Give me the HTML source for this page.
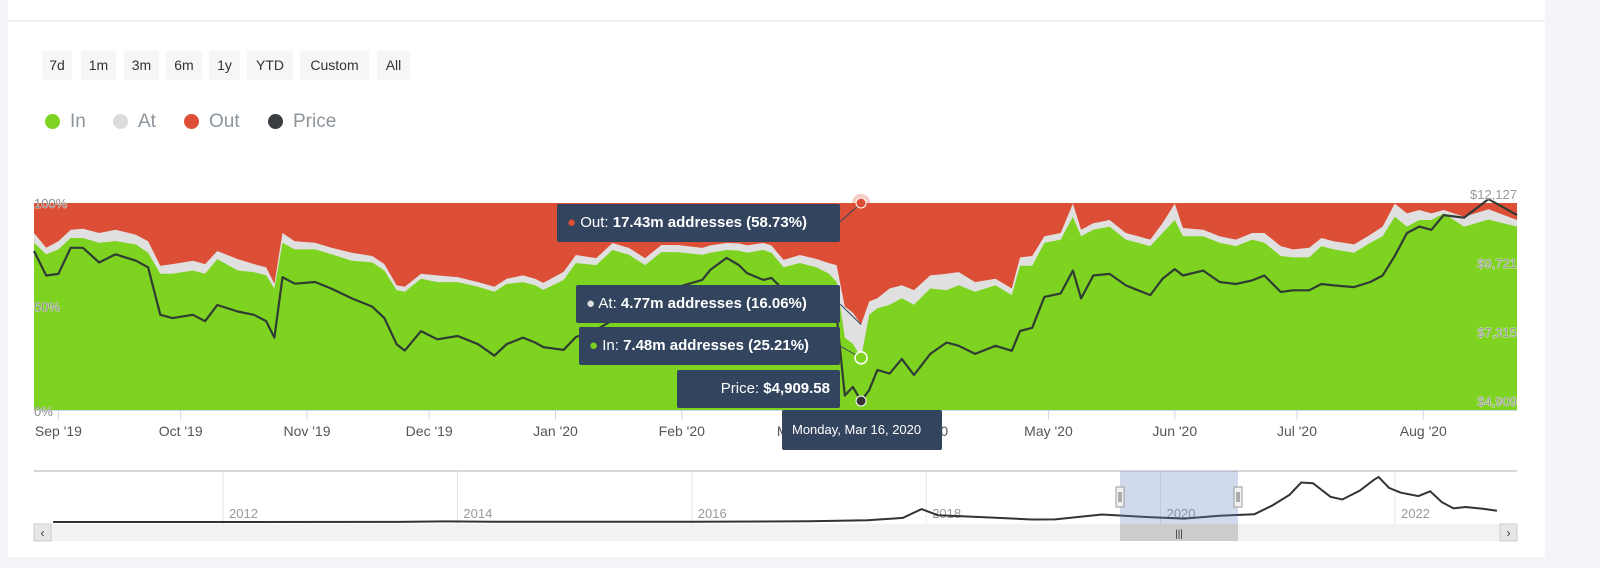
<!DOCTYPE html>
<html><head><meta charset="utf-8"><style>
body{margin:0;width:1600px;height:568px;background:#f4f5f9;font-family:"Liberation Sans",sans-serif;overflow:hidden;position:relative}
.card{position:absolute;left:8px;top:0;width:1537px;height:557px;background:#fff}
.topline{position:absolute;left:8px;top:20px;width:1537px;height:2px;background:#eef0f3}
.btn{position:absolute;top:51px;height:29px;line-height:29px;background:#f6f6f6;color:#333;font-size:14px;text-align:center;border-radius:2px}
.leg{position:absolute;top:110px;font-size:19px;color:#8d959c;height:24px;line-height:24px}
.leg i{display:inline-block;width:15px;height:15px;border-radius:50%;vertical-align:-2px;margin-right:10px}
.tip{position:absolute;background:#33445e;color:#fff;font-size:15px;line-height:38px;padding:0 10px;border-radius:2px;white-space:nowrap}
.tip b{font-weight:bold}
</style></head><body>
<div class="card"></div>
<div class="topline"></div>
<div class="btn" style="left:42px;width:30px">7d</div>
<div class="btn" style="left:81px;width:35px">1m</div>
<div class="btn" style="left:124px;width:35px">3m</div>
<div class="btn" style="left:166px;width:36px">6m</div>
<div class="btn" style="left:209px;width:31px">1y</div>
<div class="btn" style="left:247px;width:46px">YTD</div>
<div class="btn" style="left:300px;width:69px">Custom</div>
<div class="btn" style="left:377px;width:33px">All</div>
<div class="leg" style="left:45px"><i style="background:#7ed321"></i>In</div>
<div class="leg" style="left:113px"><i style="background:#dcdcdc"></i>At</div>
<div class="leg" style="left:184px"><i style="background:#dc4e35"></i>Out</div>
<div class="leg" style="left:268px"><i style="background:#3a3d42"></i>Price</div>
<svg id="chart" width="1600" height="568" style="position:absolute;left:0;top:0"></svg>
<div class="tip" style="left:557px;top:204px;width:263px"><span style="color:#dc4e35">●</span> Out: <b>17.43m addresses (58.73%)</b></div>
<div class="tip" style="left:576px;top:285px;width:244px"><span style="color:#ddd">●</span> At: <b>4.77m addresses (16.06%)</b></div>
<div class="tip" style="left:579px;top:327px;width:241px"><span style="color:#7ed321">●</span> In: <b>7.48m addresses (25.21%)</b></div>
<div class="tip" style="left:677px;top:370px;width:143px;text-align:right">Price: <b>$4,909.58</b></div>
<div class="tip" style="left:782px;top:410px;width:140px;font-size:13px;line-height:40px">Monday, Mar 16, 2020</div>
<script>
const days=[-6,-3,0,3,6,10,14,19,22,25,28,33,36,39,44,48,51,53,55,58,63,67,72,77,80,83,85,89,93,98,103,107,110,114,117,119,124,127,132,136,140,144,148,152,158,160,164,167,169,173,175,178,182,186,189,191,193,195,197,199,201,204,207,210,214,218,221,225,230,234,236,239,242,246,249,251,254,258,262,265,268,271,274,276,281,285,289,293,296,300,303,307,310,313,318,322,325,328,331,334,337,340,345,351,358];
const inPct=[80.8,75.2,77.6,83.1,83.1,80.8,81.6,80,76,65.8,65.8,67.4,65.8,72.9,67.4,66.6,65,58.7,80.8,77.6,77.6,75.2,72.1,71.3,67.4,57.9,57.1,63.4,61.8,61.8,59.5,57.1,60.9,61.8,60.3,58,62.8,71,70,77.3,75,70,76.3,76.3,75,76,77.3,77,76,77.3,76,69,71,69,66,62,35,32,25.2,46,49.2,50.8,54,50.8,58.7,57.9,60.3,57.1,60.3,55.5,69.7,69.7,80.8,82.3,93.4,83.9,87.1,88.6,82.3,80.8,79.2,85.5,91.8,83.9,83.9,80.8,79.2,82.3,80.8,74.4,73.7,73.7,79.2,77.6,76,80.8,83.9,93.4,88.6,91.8,91.8,95,88.6,92,88.6];
const atPct=[4.7,3.2,3.9,4,4.5,4.7,5.5,4.7,5.5,3.9,4.7,4.7,4.7,3.9,5.5,3.9,3.9,2.3,4.7,3.9,3.2,3.2,3.9,3.1,3.1,2.4,2.4,2.4,3.2,2.4,2.3,2.4,2.5,3.2,3.1,3.4,3.9,3.9,3.4,3.4,3.3,3.4,3.4,3.4,3.3,3.5,3.4,3.5,3.5,3.4,3.5,3.5,3.9,4,5,8,15,15,16.1,6.4,4.8,7.9,6.3,7.1,6.3,7.9,6.3,4.7,3.1,3.2,4,4.7,3.1,3.2,6.3,3.2,3.1,3.2,3.2,3.1,3.1,4.7,7.9,4,3.2,3.1,3.1,3.2,4.7,4.8,3.9,4.7,3.9,3.9,4,3.9,4.7,6.3,6.4,4.8,3.2,1.6,4.8,5,3.2];
const price=[10140,9285,9340,10250,10250,9740,10025,9800,9570,7915,7800,7915,7690,8255,8030,7915,7690,7120,9225,9000,9060,8830,8485,8200,7800,6890,6665,7345,7060,7175,6890,6490,6890,7120,6950,6790,6690,7140,7385,7730,8250,8570,8780,8880,9130,9480,9900,9650,9370,9130,9200,8780,8430,8080,7900,7900,5100,5400,4909,5290,5990,5865,6377,5815,6550,6950,6835,6550,6835,6660,7350,7460,8540,8660,9456,8485,9285,9340,8940,8770,8600,9170,9510,9285,9456,9060,8990,9115,9285,8710,8770,8770,8990,8940,8880,9060,9285,9970,10768,10990,10880,11390,11300,11950,11390];
const monthLabels=["Sep '19","Oct '19","Nov '19","Dec '19","Jan '20","Feb '20","Mar '20","Apr '20","May '20","Jun '20","Jul '20","Aug '20"];
const monthDays=[0,30,61,91,122,153,182,213,243,274,304,335];
const priceTicks=[4909,7315,9721,12127];
const pctTicks=[0,50,100];
const navYears=[2010.55,2012,2013.5,2013.9,2014.3,2015,2016,2017,2017.5,2017.8,2017.96,2018.1,2018.5,2018.9,2019.1,2019.5,2019.9,2020.2,2020.5,2020.8,2020.95,2021.1,2021.2,2021.3,2021.45,2021.55,2021.7,2021.82,2021.86,2021.95,2022.05,2022.2,2022.3,2022.4,2022.5,2022.6,2022.75,2022.87];
const navPrice=[0,10,100,900,500,250,430,1000,2500,6000,19000,10000,7000,3600,3800,11000,7200,5000,9300,11500,24000,40000,58000,57000,37000,33000,46000,62000,66000,50000,43000,38000,45000,29000,20000,22000,19500,16500];
const navTickYears=[2012,2014,2016,2018,2020,2022];

const svg=document.getElementById('chart');const NS='http://www.w3.org/2000/svg';
function mk(t,a,p){const e=document.createElementNS(NS,t);for(const k in a)e.setAttribute(k,a[k]);(p||svg).appendChild(e);return e;}
const X0=34,X1=1517,Y0=203,Y1=410,D0=-6,D1=358;
const xs=d=>X0+(d-D0)/(D1-D0)*(X1-X0);
const yp=p=>Y1-p/100*(Y1-Y0);
const ypr=v=>401-(v-4909)/(12127-4909)*207;
// out background
let r=mk('rect',{x:X0,y:Y0,width:X1-X0,height:Y1-Y0,fill:'#dc4e35'});


function area(vals,fill,name){let d='M'+xs(days[0])+','+Y1;days.forEach((dd,i)=>{d+=' L'+xs(dd).toFixed(1)+','+yp(vals[i]).toFixed(1)});d+=' L'+xs(days[days.length-1])+','+Y1+'Z';const e=mk('path',{d:d,fill:fill});

}
area(inPct.map((v,i)=>v+atPct[i]),'#e0e0e0','at-area');
area(inPct,'#7ed321','in-area');
let pd='';days.forEach((dd,i)=>{pd+=(i?' L':'M')+xs(dd).toFixed(1)+','+ypr(price[i]).toFixed(1)});
let pl=mk('path',{d:pd,fill:'none',stroke:'#2f3b33',"stroke-width":2.2,"stroke-linejoin":'round'});


mk('line',{x1:X0,x2:X1,y1:Y1+0.5,y2:Y1+0.5,stroke:'#ccd6eb'});
monthDays.forEach((d,i)=>{const x=xs(d);mk('line',{x1:x,x2:x,y1:Y1,y2:Y1+10,stroke:'#ccd6eb'});
const t=mk('text',{x:x,y:436,"text-anchor":'middle',"font-size":14,fill:'#555'});t.textContent=monthLabels[i];

});
pctTicks.forEach(p=>{const t=mk('text',{x:34,y:yp(p)+(p==0?6:5),"font-size":13,fill:'#888',stroke:'#fff',"stroke-width":0.6,"paint-order":'stroke'});t.textContent=p+'%';

});
priceTicks.forEach(p=>{const t=mk('text',{x:1517,y:ypr(p)+5,"text-anchor":'end',"font-size":13,fill:'#999',stroke:'#fff',"stroke-width":0.6,"paint-order":'stroke'});t.textContent='$'+p.toLocaleString('en-US');

});
// markers at Mar 16
const md=197,mi=days.indexOf(md),mx=xs(md);
mk('line',{x1:840,y1:222,x2:mx,y2:203,stroke:'#33445e'});
mk('line',{x1:840,y1:304,x2:mx,y2:yp(inPct[mi]+atPct[mi]),stroke:'#33445e'});
mk('line',{x1:840,y1:346,x2:mx,y2:yp(inPct[mi]),stroke:'#33445e'});
mk('circle',{cx:mx,cy:Y0,r:9,fill:'rgba(220,78,53,0.3)'});
mk('circle',{cx:mx,cy:Y0,r:5,fill:'#dc4e35',stroke:'#fff'});
mk('circle',{cx:mx,cy:yp(inPct[mi]),r:6,fill:'#7ed321',stroke:'#fff',"stroke-width":1.5});
mk('circle',{cx:mx,cy:ypr(price[mi]),r:5,fill:'#333',stroke:'#fff'});
// navigator
const NX=(y)=>223+(y-2012)*117.2, NY=v=>522-v/69000*47;
mk('line',{x1:34,x2:1517,y1:471,y2:471,stroke:'#ccc',"stroke-width":1.5});
navTickYears.forEach(y=>{mk('line',{x1:NX(y),x2:NX(y),y1:471,y2:524,stroke:'#e6e6e6'});const t=mk('text',{x:NX(y)+6,y:518,"font-size":13,fill:'#999'});t.textContent=y;

});
let nd='';navYears.forEach((y,i)=>{nd+=(i?' L':'M')+NX(y).toFixed(1)+','+NY(navPrice[i]).toFixed(1)});
let nl=mk('path',{d:nd,fill:'none',stroke:'#333',"stroke-width":2});


let sel=mk('rect',{x:1120,y:471,width:118,height:53,fill:'rgba(102,133,194,0.3)'});


[1120,1238].forEach(x=>{const h=mk('rect',{x:x-4,y:487,width:8,height:20,fill:'#f2f2f2',stroke:'#999'});


mk('line',{x1:x-1,x2:x-1,y1:492,y2:502,stroke:'#666'});mk('line',{x1:x+1,x2:x+1,y1:492,y2:502,stroke:'#666'});});
let sb=mk('rect',{x:34,y:524,width:1483,height:17,fill:'#f2f2f2'});


let th=mk('rect',{x:1120,y:524,width:118,height:17,fill:'#ccc'});


mk('text',{x:1179,y:537,"text-anchor":'middle',"font-size":10,fill:'#333'}).textContent='|||';
[[34,'‹'],[1500,'›']].forEach(([x,c])=>{const b=mk('rect',{x:x,y:524,width:17,height:17,fill:'#e6e6e6',stroke:'#ccc'});


mk('text',{x:x+8.5,y:537,"text-anchor":'middle',"font-size":12,fill:'#333'}).textContent=c;});
</script>
</body></html>
